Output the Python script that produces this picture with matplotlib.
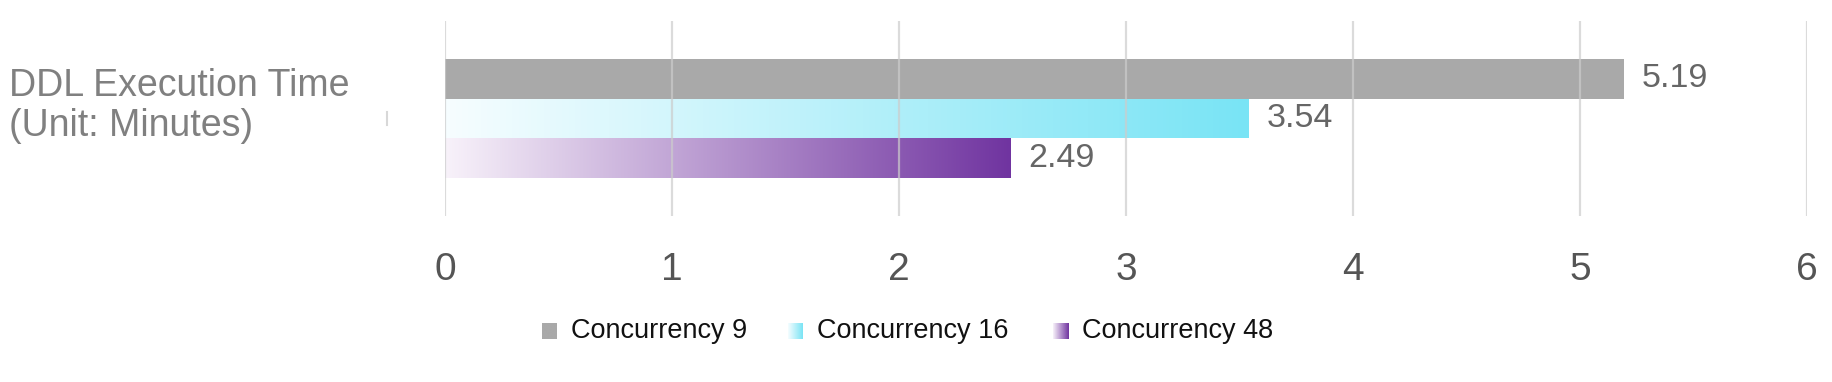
import numpy as np
import matplotlib
matplotlib.use("Agg")
import matplotlib.pyplot as plt
from matplotlib.colors import LinearSegmentedColormap
from matplotlib.lines import Line2D

plt.rcParams['font.family'] = ['Liberation Sans', 'DejaVu Sans']

# --- data -----------------------------------------------------------------------
series = ["Concurrency 9", "Concurrency 16", "Concurrency 48"]
values = [5.19, 3.54, 2.49]
xticks = [0, 1, 2, 3, 4, 5, 6]
title_lines = ["DDL Execution Time", "(Unit: Minutes)"]

# colour ramps: (left, right) of each bar
ramps = [("#a9a9a9", "#a9a9a9"), ("#f6fdff", "#79e4f5"), ("#f8f2fa", "#7034a0")]

W, H = 1832, 382
fig = plt.figure(figsize=(W / 100, H / 100), dpi=100)
ax = fig.add_axes([445 / W, 1 - 216 / H, (1807 - 445) / W, (216 - 21) / H])

pos = np.arange(len(values))
bars = ax.barh(pos, values, height=1.0, color="none", edgecolor="none")
grad = np.linspace(0, 1, 256).reshape(1, -1)
for b, (c0, c1), v in zip(bars, ramps, values):
    cmap = LinearSegmentedColormap.from_list("r", [c0, c1])
    x0, y0 = b.get_x(), b.get_y()
    im = ax.imshow(grad, cmap=cmap, aspect="auto", extent=[x0, x0 + b.get_width(), y0 + b.get_height(), y0],
                   zorder=1, interpolation="bicubic")
    im.set_clip_path(b)
    ax.text(v + 0.08, b.get_y() + b.get_height() / 2, f"{v:.2f}", va="center", ha="left",
            fontsize=24.5, color="#666666")

ax.set_xlim(0, 6)
ax.set_ylim(3.44, -1.44)
ax.set_xticks(xticks)
ax.set_xticklabels([str(t) for t in xticks], fontsize=28, color="#555555")
ax.set_yticks([])
ax.tick_params(axis="x", length=0, pad=26)
ax.grid(axis="x", color="#cccccc", linewidth=1.6, alpha=0.7, zorder=3)
ax.set_axisbelow(False)
for s in ax.spines.values():
    s.set_visible(False)

fig.text(9 / W, 1 - 106 / H, "\n".join(title_lines), ha="left", va="center", fontsize=27,
         color="#808080", linespacing=1.15)
# small stray mark left of the plot
fig.add_artist(Line2D([387 / W, 387 / W], [1 - 112 / H, 1 - 125 / H], color="#d8d8d8", linewidth=1.5))

# legend, drawn by hand so the swatches can carry the gradient
sw_x = [542, 788, 1053]
for x, (c0, c1), name in zip(sw_x, ramps, series):
    lax = fig.add_axes([x / W, 1 - 339 / H, 15 / W, 16 / H])
    lax.imshow(grad, cmap=LinearSegmentedColormap.from_list("r", [c0, c1]), aspect="auto")
    lax.axis("off")
    fig.text((x + 29) / W, 1 - 331 / H, name, ha="left", va="center", fontsize=19.5, color="#111111")

fig.savefig("out.png", dpi=100)
